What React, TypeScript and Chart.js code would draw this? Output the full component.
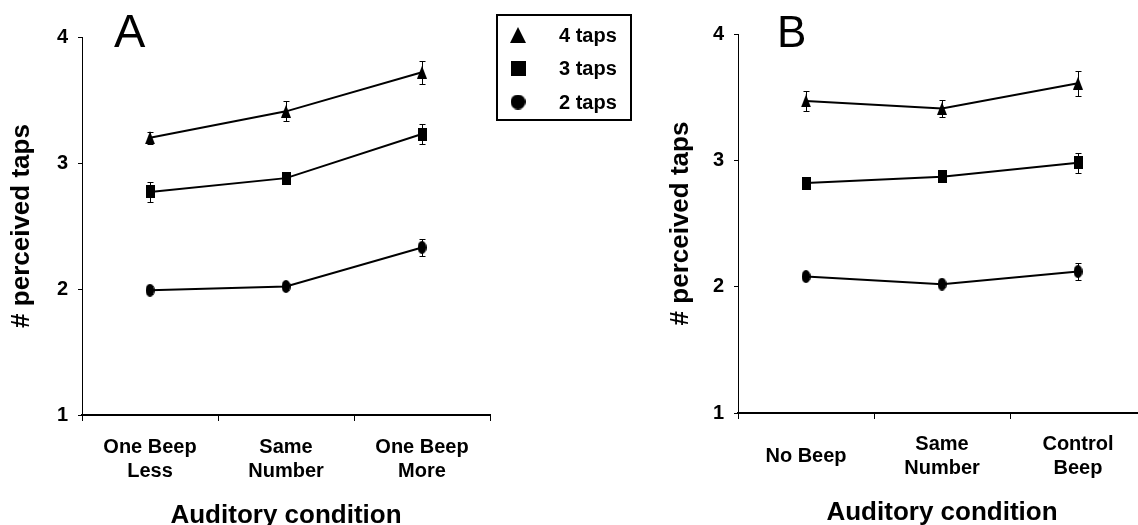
import React, { useEffect, useRef } from "react";
import { Chart, registerables } from "chart.js";

Chart.register(...registerables);

// ---------- DATA ----------
const SERIES_NAMES = ["4 taps", "3 taps", "2 taps"];
const MARKER_KINDS = ["triangle", "rect", "ellipse"];

const CATEGORIES_A: (string | string[])[] = [["One Beep", "Less"], ["Same", "Number"], ["One Beep", "More"]];
const A_FOUR = [3.2, 3.41, 3.72];
const A_THREE = [2.77, 2.88, 3.23];
const A_TWO = [1.99, 2.02, 2.33];
const A_FOUR_ERR = [0.05, 0.08, 0.09];
const A_THREE_ERR = [0.08, 0.04, 0.08];
const A_TWO_ERR = [0.03, 0.03, 0.07];

const CATEGORIES_B: (string | string[])[] = ["No Beep", ["Same", "Number"], ["Control", "Beep"]];
const B_FOUR = [3.47, 3.41, 3.61];
const B_THREE = [2.82, 2.87, 2.98];
const B_TWO = [2.08, 2.02, 2.12];
const B_FOUR_ERR = [0.08, 0.07, 0.1];
const B_THREE_ERR = [0.05, 0.03, 0.08];
const B_TWO_ERR = [0.02, 0.02, 0.065];

const Y_MIN = 1;
const Y_MAX = 4;
const Y_STEP = 1;
const X_TITLE = "Auditory condition";
const Y_TITLE = "# perceived taps";

const FONT = '"Liberation Sans", Arial, Helvetica, sans-serif';

function makeMarker(kind: string, w: number, h: number): HTMLCanvasElement {
  const c = document.createElement("canvas");
  c.width = w;
  c.height = h;
  const ctx = c.getContext("2d")!;
  ctx.fillStyle = "#000";
  ctx.beginPath();
  if (kind === "triangle") {
    ctx.moveTo(w / 2, 0);
    ctx.lineTo(w, h);
    ctx.lineTo(0, h);
    ctx.closePath();
  } else if (kind === "rect") {
    ctx.rect(0, 0, w, h);
  } else {
    ctx.ellipse(w / 2, h / 2, w / 2, h / 2, 0, 0, Math.PI * 2);
  }
  ctx.fill();
  return c;
}

const errorBarPlugin = {
  id: "errorBars",
  afterDatasetsDraw(chart: any, _args: any, opts: any) {
    const errs: number[][] = opts.errors || [];
    const ctx = chart.ctx;
    const y = chart.scales.y;
    ctx.save();
    ctx.strokeStyle = "#000";
    ctx.lineWidth = 1;
    chart.data.datasets.forEach((ds: any, i: number) => {
      const meta = chart.getDatasetMeta(i);
      (ds.data as number[]).forEach((v, j) => {
        const e = errs[i] ? errs[i][j] : 0;
        const px = Math.round(meta.data[j].x) + 0.5;
        const top = Math.round(y.getPixelForValue(v + e)) + 0.5;
        const bot = Math.round(y.getPixelForValue(v - e)) + 0.5;
        ctx.beginPath();
        ctx.moveTo(px, top);
        ctx.lineTo(px, bot);
        ctx.moveTo(px - 3, top);
        ctx.lineTo(px + 3, top);
        ctx.moveTo(px - 3, bot);
        ctx.lineTo(px + 3, bot);
        ctx.stroke();
      });
    });
    ctx.restore();
  },
};

const panelLetterPlugin = {
  id: "panelLetter",
  afterDraw(chart: any, _args: any, opts: any) {
    if (!opts.text) return;
    const ctx = chart.ctx;
    const area = chart.chartArea;
    ctx.save();
    ctx.fillStyle = "#000";
    ctx.font = `${opts.size}px ${FONT}`;
    ctx.textBaseline = "alphabetic";
    ctx.textAlign = "left";
    ctx.fillText(opts.text, area.left + opts.dx, area.top + opts.dy);
    ctx.restore();
  },
};

const boxLegendPlugin = {
  id: "boxLegend",
  afterDraw(chart: any, _args: any, opts: any) {
    if (!opts.show) return;
    const ctx = chart.ctx;
    ctx.save();
    ctx.strokeStyle = "#000";
    ctx.lineWidth = 2;
    ctx.strokeRect(opts.x, opts.y, opts.w, opts.h);
    const sizes: Record<string, [number, number]> = {
      triangle: [16, 16],
      rect: [15, 15],
      ellipse: [15, 15],
    };
    chart.data.datasets.forEach((ds: any, i: number) => {
      const cy = opts.y + opts.rowStart + i * opts.rowGap;
      const kind = MARKER_KINDS[i];
      const [w, h] = sizes[kind];
      const m = makeMarker(kind, w, h);
      ctx.drawImage(m, opts.x + opts.markerX - w / 2, cy - h / 2);
      ctx.fillStyle = "#000";
      ctx.font = `bold 20px ${FONT}`;
      ctx.textBaseline = "middle";
      ctx.textAlign = "left";
      ctx.fillText(ds.label, opts.x + opts.textX, cy + 1);
    });
    ctx.restore();
  },
};

type PanelProps = {
  left: number;
  width: number;
  height: number;
  categories: (string | string[])[];
  series: number[][];
  errors: number[][];
  padTop: number;
  padRight: number;
  chartBottom: number;
  yWidth: number;
  yTitlePad: number;
  xTitlePad: number;
  crossAlign: "near" | "center" | "far";
  tickPad: number;
  letter: string;
  letterSize: number;
  letterDx: number;
  letterDy: number;
  legend: boolean;
};

function Panel(p: PanelProps) {
  const ref = useRef<HTMLCanvasElement | null>(null);
  useEffect(() => {
    if (!ref.current) return;
    const markerSizes: Record<string, [number, number]> = {
      triangle: [10, 13],
      rect: [9, 13],
      ellipse: [9, 13],
    };
    const datasets = p.series.map((vals, i) => {
      const kind = MARKER_KINDS[i];
      const [w, h] = markerSizes[kind];
      const img = makeMarker(kind, w, h);
      return {
        label: SERIES_NAMES[i],
        data: vals,
        borderColor: "#000",
        backgroundColor: "#000",
        borderWidth: 2,
        pointStyle: img as any,
        pointRadius: 5,
        tension: 0,
        fill: false,
      };
    });
    const tickFont = { family: FONT, size: 20, weight: "bold" as const, lineHeight: 1.2 };
    const titleFont = { family: FONT, size: 26, weight: "bold" as const, lineHeight: 1.2 };
    const chart = new Chart(ref.current, {
      type: "line",
      data: { labels: p.categories as any, datasets },
      plugins: [errorBarPlugin, panelLetterPlugin, boxLegendPlugin],
      options: {
        animation: false,
        responsive: false,
        maintainAspectRatio: false,
        layout: { padding: { left: 0, right: p.padRight, top: p.padTop, bottom: 0 } },
        plugins: {
          legend: { display: false },
          tooltip: { enabled: false },
          errorBars: { errors: p.errors },
          panelLetter: { text: p.letter, size: p.letterSize, dx: p.letterDx, dy: p.letterDy },
          boxLegend: {
            show: p.legend,
            x: 497,
            y: 15,
            w: 134,
            h: 105,
            rowStart: 20,
            rowGap: 33.5,
            markerX: 21,
            textX: 62,
          },
        } as any,
        scales: {
          x: {
            type: "category",
            offset: true,
            grid: {
              offset: true,
              drawOnChartArea: false,
              drawTicks: true,
              tickLength: 6,
              color: "#000",
              lineWidth: 1,
            },
            border: { display: true, color: "#000", width: 2 },
            ticks: {
              font: tickFont,
              color: "#000",
              padding: p.tickPad,
              maxRotation: 0,
              minRotation: 0,
              autoSkip: false,
              crossAlign: p.crossAlign,
            },
            title: {
              display: true,
              text: X_TITLE,
              font: titleFont,
              color: "#000",
              padding: { top: 0, bottom: p.xTitlePad },
            },
            afterFit: (s: any) => {
              s.height = p.height - p.chartBottom;
            },
          },
          y: {
            type: "linear",
            min: Y_MIN,
            max: Y_MAX,
            ticks: {
              stepSize: Y_STEP,
              font: tickFont,
              color: "#000",
              padding: 10,
            },
            grid: {
              drawOnChartArea: false,
              drawTicks: true,
              tickLength: 4,
              color: "#000",
              lineWidth: 1,
            },
            border: { display: true, color: "#000", width: 1 },
            title: {
              display: true,
              text: Y_TITLE,
              font: titleFont,
              color: "#000",
              padding: { top: p.yTitlePad, bottom: 0 },
            },
            afterFit: (s: any) => {
              s.width = p.yWidth;
            },
          },
        },
      } as any,
    });
    return () => chart.destroy();
  }, []);
  return (
    <canvas
      ref={ref}
      width={p.width}
      height={p.height}
      style={{ position: "absolute", left: p.left, top: 0, width: p.width, height: p.height }}
    />
  );
}

export default function App() {
  return (
    <div
      style={{
        position: "fixed",
        left: 0,
        top: 0,
        width: 1138,
        height: 525,
        overflow: "hidden",
        background: "#fff",
      }}
    >
      <Panel
        left={0}
        width={640}
        height={535}
        categories={CATEGORIES_A}
        series={[A_FOUR, A_THREE, A_TWO]}
        errors={[A_FOUR_ERR, A_THREE_ERR, A_TWO_ERR]}
        padTop={37}
        padRight={150}
        chartBottom={415}
        yWidth={82}
        yTitlePad={6}
        xTitlePad={4}
        crossAlign="near"
        tickPad={14}
        letter="A"
        letterSize={47}
        letterDx={32}
        letterDy={10}
        legend={true}
      />
      <Panel
        left={660}
        width={500}
        height={535}
        categories={CATEGORIES_B}
        series={[B_FOUR, B_THREE, B_TWO]}
        errors={[B_FOUR_ERR, B_THREE_ERR, B_TWO_ERR]}
        padTop={34}
        padRight={14}
        chartBottom={413}
        yWidth={78}
        yTitlePad={5}
        xTitlePad={7}
        crossAlign="center"
        tickPad={25}
        letter="B"
        letterSize={44}
        letterDx={39}
        letterDy={13}
        legend={false}
      />
    </div>
  );
}
